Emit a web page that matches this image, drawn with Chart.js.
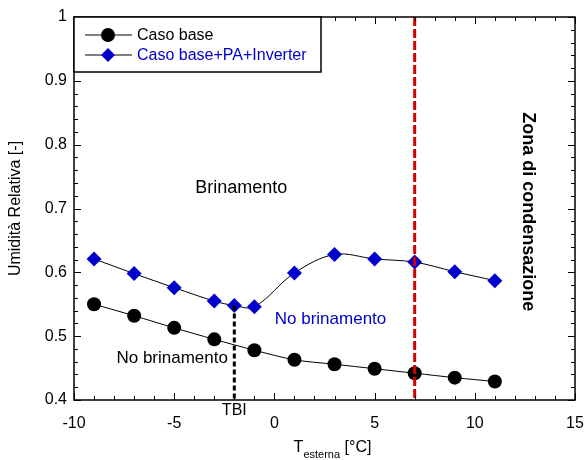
<!DOCTYPE html>
<html>
<head>
<meta charset="utf-8">
<script src="https://cdn.jsdelivr.net/npm/chart.js@4/dist/chart.umd.min.js"></script>
<style>
  html, body { margin: 0; padding: 0; background: #fff; }
  #wrap { width: 585px; height: 460px; }
</style>
</head>
<body>
<div id="wrap"><canvas id="myChart" width="585" height="460"></canvas></div>
<script>
// temperature esterna [°C]
const tempCasoBase = [-9, -7, -5, -3, -1, 1, 3, 5, 7, 9, 11];
const umCasoBase = [0.550, 0.532, 0.513, 0.495, 0.478, 0.463, 0.456, 0.449, 0.442, 0.435, 0.429];

const tempInverter = [-9, -7, -5, -3, -2, -1, 1, 3, 5, 7, 9, 11];
const umInverter = [0.621, 0.598, 0.576, 0.555, 0.548, 0.546, 0.599, 0.628, 0.621, 0.616, 0.601, 0.587];

const seriesNames = ["Caso base", "Caso base+PA+Inverter"];
const xTickLabels = [-10, -5, 0, 5, 10, 15];
const yTickLabels = [0.4, 0.5, 0.6, 0.7, 0.8, 0.9, 1];

const TBI = -2;          // temperatura bivalente
const tCondensa = 7;     // limite zona di condensazione

const BLUE = "#0000CC";
const FONT = "'Liberation Sans', Arial, sans-serif";

// testi dentro il grafico (coordinate in unita' dati)
const notes = [
  { text: "Brinamento", x: -1.65, y: 0.732, color: "#000", font: "18px " + FONT },
  { text: "No brinamento", x: 2.8, y: 0.526, color: BLUE, font: "17px " + FONT },
  { text: "No brinamento", x: -5.1, y: 0.465, color: "#000", font: "17px " + FONT },
];

function toXY(xs, ys) {
  return xs.map((x, i) => ({ x: x, y: ys[i] }));
}

// cornice, tacche interne, linee verticali, testi, legenda
const decor = {
  id: "decor",
  afterDatasetsDraw(chart) {
    const ctx = chart.ctx;
    const a = chart.chartArea;
    const xs = chart.scales.x, ys = chart.scales.y;
    ctx.save();

    // linea rossa tratteggiata a 7 °C
    const xr = xs.getPixelForValue(tCondensa);
    ctx.strokeStyle = "#D40000";
    ctx.lineWidth = 3;
    ctx.setLineDash([9, 3]);
    ctx.beginPath();
    ctx.moveTo(xr, a.top);
    ctx.lineTo(xr, a.bottom);
    ctx.stroke();

    // linea nera tratteggiata TBI
    const xt = xs.getPixelForValue(TBI);
    const yt = ys.getPixelForValue(umInverter[tempInverter.indexOf(TBI)]);
    ctx.strokeStyle = "#000";
    ctx.setLineDash([5, 3]);
    ctx.beginPath();
    ctx.moveTo(xt, yt);
    ctx.lineTo(xt, a.bottom);
    ctx.stroke();
    ctx.setLineDash([]);

    // cornice
    ctx.strokeStyle = "#000";
    ctx.lineWidth = 1.5;
    ctx.strokeRect(a.left, a.top, a.right - a.left, a.bottom - a.top);

    // tacche interne
    ctx.lineWidth = 1;
    ctx.beginPath();
    for (let v = -10; v <= 15; v++) {
      const p = Math.round(xs.getPixelForValue(v)) + 0.5;
      const len = v % 5 === 0 ? 7 : 4;
      ctx.moveTo(p, a.bottom); ctx.lineTo(p, a.bottom - len);
      ctx.moveTo(p, a.top); ctx.lineTo(p, a.top + len);
    }
    for (let k = 0; k <= 30; k++) {
      const v = 0.4 + k * 0.02;
      const p = Math.round(ys.getPixelForValue(v)) + 0.5;
      const len = k % 5 === 0 ? 7 : 4;
      ctx.moveTo(a.left, p); ctx.lineTo(a.left + len, p);
      ctx.moveTo(a.right, p); ctx.lineTo(a.right - len, p);
    }
    ctx.stroke();

    // testi
    ctx.textAlign = "center";
    ctx.textBaseline = "middle";
    notes.forEach((n) => {
      ctx.fillStyle = n.color;
      ctx.font = n.font;
      ctx.fillText(n.text, xs.getPixelForValue(n.x), ys.getPixelForValue(n.y));
    });

    // zona di condensazione (verticale)
    ctx.save();
    ctx.translate(xs.getPixelForValue(12.65), ys.getPixelForValue(0.695));
    ctx.rotate(Math.PI / 2);
    ctx.fillStyle = "#000";
    ctx.font = "bold 18px " + FONT;
    ctx.fillText("Zona di condensazione", 0, 0);
    ctx.restore();

    // TBI sotto l'asse
    ctx.font = "16px " + FONT;
    ctx.fillStyle = "#000";
    ctx.fillText("TBI", xt, a.bottom + 11);

    // titolo asse x con pedice
    const cx = (a.left + a.right) / 2;
    ctx.textAlign = "left";
    ctx.textBaseline = "alphabetic";
    ctx.font = "16px " + FONT;
    const wT = ctx.measureText("T").width;
    const wU = ctx.measureText(" [°C]").width;
    ctx.font = "11px " + FONT;
    const wS = ctx.measureText("esterna").width;
    let x0 = cx - (wT + wS + wU) / 2 + 8;
    const base = 452;
    ctx.font = "16px " + FONT;
    ctx.fillText("T", x0, base);
    ctx.font = "11px " + FONT;
    ctx.fillText("esterna", x0 + wT, base + 6);
    ctx.font = "16px " + FONT;
    ctx.fillText(" [°C]", x0 + wT + wS, base);

    // titolo asse y
    ctx.save();
    ctx.translate(16, (a.top + a.bottom) / 2);
    ctx.rotate(-Math.PI / 2);
    ctx.textAlign = "center";
    ctx.textBaseline = "middle";
    ctx.fillText("Umidità Relativa [-]", 0, 0);
    ctx.restore();

    // legenda
    const lx = a.left, ly = a.top, lw = 247, lh = 55;
    ctx.fillStyle = "#fff";
    ctx.fillRect(lx, ly, lw, lh);
    ctx.strokeStyle = "#000";
    ctx.lineWidth = 1.5;
    ctx.strokeRect(lx, ly, lw, lh);
    const rows = [ly + 18, ly + 38];
    chart.data.datasets.forEach((ds, i) => {
      const yy = rows[i];
      ctx.strokeStyle = "#000";
      ctx.lineWidth = 1;
      ctx.beginPath();
      ctx.moveTo(lx + 11, yy); ctx.lineTo(lx + 58, yy);
      ctx.stroke();
      ctx.fillStyle = ds.pointBackgroundColor;
      ctx.beginPath();
      if (ds.pointStyle === "circle") {
        ctx.arc(lx + 34, yy, 7, 0, Math.PI * 2);
      } else {
        ctx.moveTo(lx + 34, yy - 7); ctx.lineTo(lx + 41, yy);
        ctx.lineTo(lx + 34, yy + 7); ctx.lineTo(lx + 27, yy);
        ctx.closePath();
      }
      ctx.fill();
      ctx.fillStyle = i === 0 ? "#000" : BLUE;
      ctx.font = "16px " + FONT;
      ctx.textAlign = "left";
      ctx.textBaseline = "middle";
      ctx.fillText(ds.label, lx + 63, yy + 1);
    });

    ctx.restore();
  },
};

new Chart(document.getElementById("myChart"), {
  type: "line",
  data: {
    datasets: [
      {
        label: seriesNames[0],
        data: toXY(tempCasoBase, umCasoBase),
        borderColor: "#000",
        borderWidth: 1,
        tension: 0.3,
        pointStyle: "circle",
        pointRadius: 7,
        pointBackgroundColor: "#000",
        pointBorderColor: "#000",
        pointBorderWidth: 0,
      },
      {
        label: seriesNames[1],
        data: toXY(tempInverter, umInverter),
        borderColor: "#000",
        borderWidth: 1,
        tension: 0.35,
        pointStyle: "rectRot",
        pointRadius: 7.5,
        pointBackgroundColor: BLUE,
        pointBorderColor: BLUE,
        pointBorderWidth: 0,
      },
    ],
  },
  options: {
    responsive: false,
    animation: false,
    layout: { padding: { left: 0, right: 10, top: 17, bottom: 0 } },
    plugins: { legend: { display: false }, tooltip: { enabled: false } },
    scales: {
      x: {
        type: "linear",
        min: -10,
        max: 15,
        grid: { display: false, drawTicks: false },
        border: { display: false },
        afterBuildTicks: (s) => { s.ticks = xTickLabels.map((v) => ({ value: v })); },
        ticks: {
          color: "#000",
          font: { family: FONT, size: 16 },
          padding: 14,
          maxRotation: 0,
          callback: (v) => String(v),
        },
        afterFit: (s) => { s.height = 60; s.paddingRight = 0; s.paddingLeft = 0; },
      },
      y: {
        min: 0.4,
        max: 1,
        grid: { display: false, drawTicks: false },
        border: { display: false },
        afterBuildTicks: (s) => { s.ticks = yTickLabels.map((v) => ({ value: v })); },
        ticks: {
          color: "#000",
          font: { family: FONT, size: 16 },
          padding: 7,
          callback: (v) => (v === 1 ? "1" : v.toFixed(1)),
        },
        afterFit: (s) => { s.width = 74; s.paddingTop = 0; s.paddingBottom = 0; },
      },
    },
  },
  plugins: [decor],
});
</script>
</body>
</html>
